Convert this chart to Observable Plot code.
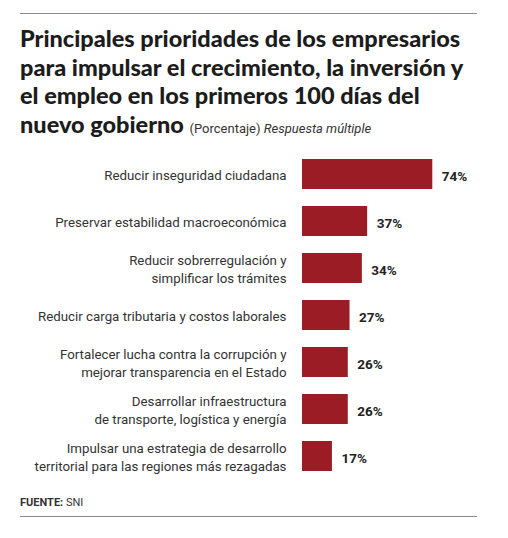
<!DOCTYPE html>
<html>
<head>
<meta charset="utf-8">
<script src="https://cdn.jsdelivr.net/npm/d3@7"></script>
<script src="https://cdn.jsdelivr.net/npm/@observablehq/plot@0.6"></script>
<style>
  html, body { margin: 0; padding: 0; background: #fff; }
  #wrap { position: relative; width: 508px; height: 538px; font-family: Roboto, sans-serif; color: #222; }
  .rule { position: absolute; left: 20px; width: 457px; height: 0; border-top: 1.5px solid #8a8a8a; }
  #title { position: absolute; left: 20px; top: 24px; width: 480px; font-family: Lato, sans-serif; font-size: 23.5px; font-weight: 900; line-height: 28.6px; color: #1c1c1c; white-space: nowrap; }
  #title .sub { font-family: Roboto, sans-serif; font-size: 13px; font-weight: 400; color: #333; }
  #chart { position: absolute; left: 0; top: 140px; }
  #source { position: absolute; left: 20px; top: 496px; font-size: 11px; color: #333; }
</style>
</head>
<body>
<div id="wrap">
  <div class="rule" style="top:13px"></div>
  <div id="title">Principales prioridades de los empresarios<br>para impulsar el crecimiento, la inversión y<br>el empleo en los primeros 100 días del<br>nuevo gobierno <span class="sub">(Porcentaje) <i>Respuesta múltiple</i></span></div>
  <div id="chart"></div>
  <div id="source"><b>FUENTE:</b> SNI</div>
  <div class="rule" style="top:516px"></div>
</div>
<script>
const categories = [
  "Reducir inseguridad ciudadana",
  "Preservar estabilidad macroeconómica",
  "Reducir sobrerregulación y\nsimplificar los trámites",
  "Reducir carga tributaria y costos laborales",
  "Fortalecer lucha contra la corrupción y\nmejorar transparencia en el Estado",
  "Desarrollar infraestructura\nde transporte, logística y energía",
  "Impulsar una estrategia de desarrollo\nterritorial para las regiones más rezagadas"
];
const values = [74, 37, 34, 27, 26, 26, 17];
const valueLabels = ["74%", "37%", "34%", "27%", "26%", "26%", "17%"];

const data = categories.map((c, i) => ({cat: c, value: values[i], label: valueLabels[i]}));

const chart = Plot.plot({
  width: 508,
  height: 348,
  marginTop: 1,
  marginBottom: 0,
  marginLeft: 302,
  marginRight: 0,
  style: {fontFamily: "Roboto, sans-serif", background: "transparent"},
  x: {domain: [0, 117], axis: null},
  y: {domain: categories, padding: 0.37, axis: null},
  marks: [
    Plot.barX(data, {x: "value", y: "cat", fill: "#9c1c25"}),
    Plot.text(data, {x: 0, y: "cat", text: "cat", textAnchor: "end", dx: -16, fontSize: 13.3, lineHeight: 1.3, fill: "#333"}),
    Plot.text(data, {x: "value", y: "cat", text: "label", textAnchor: "start", dx: 9, dy: 2, fontSize: 13.5, fontWeight: "bold", fill: "#222"})
  ]
});
document.getElementById("chart").appendChild(chart);
</script>
</body>
</html>
